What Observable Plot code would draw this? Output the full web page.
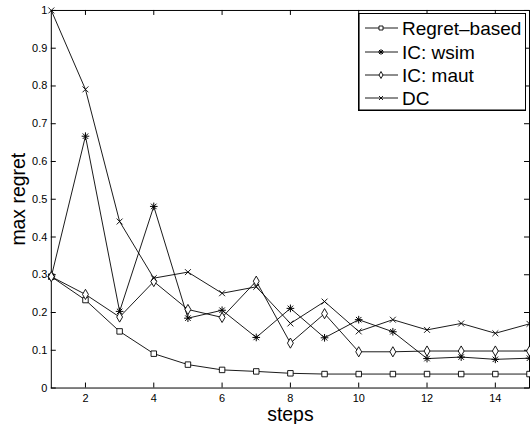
<!DOCTYPE html>
<html>
<head>
<meta charset="utf-8">
<script src="https://cdn.jsdelivr.net/npm/d3@7"></script>
<script src="https://cdn.jsdelivr.net/npm/@observablehq/plot@0.6"></script>
<style>
  html, body { margin: 0; padding: 0; background: white; }
  #wrap { position: relative; width: 530px; height: 426px; overflow: hidden; font-family: "Liberation Sans", Arial, Helvetica, sans-serif; }
  #legend { position: absolute; left: 358px; top: 13px; }
</style>
</head>
<body>
<div id="wrap"></div>
<script>
const steps = [1, 2, 3, 4, 5, 6, 7, 8, 9, 10, 11, 12, 13, 14, 15];
const regretBased = [0.295, 0.233, 0.150, 0.091, 0.062, 0.048, 0.044, 0.039, 0.037, 0.037, 0.037, 0.037, 0.037, 0.037, 0.037];
const icWsim = [0.295, 0.667, 0.203, 0.481, 0.185, 0.206, 0.134, 0.211, 0.133, 0.181, 0.149, 0.078, 0.082, 0.076, 0.079];
const icMaut = [0.295, 0.248, 0.188, 0.282, 0.208, 0.187, 0.283, 0.119, 0.197, 0.096, 0.096, 0.098, 0.098, 0.098, 0.098];
const dc = [1.0, 0.791, 0.441, 0.291, 0.307, 0.251, 0.268, 0.171, 0.229, 0.150, 0.181, 0.154, 0.171, 0.145, 0.170];
const seriesNames = ["Regret\u2013based", "IC: wsim", "IC: maut", "DC"];
const xTicks = [2, 4, 6, 8, 10, 12, 14];
const yTicks = [0, 0.1, 0.2, 0.3, 0.4, 0.5, 0.6, 0.7, 0.8, 0.9, 1];

const seriesValues = [regretBased, icWsim, icMaut, dc];
const rows = seriesNames.flatMap((name, i) => steps.map((s, j) => ({series: name, step: s, value: seriesValues[i][j]})));
const bySeries = name => rows.filter(d => d.series === name);

const W = 532, H = 426, mL = 51, mR = 1, mT = 10, mB = 37;
const frameW = W - mL - mR, frameH = H - mT - mB;
const tickLen = 5;
const font = "Liberation Sans, Arial, Helvetica, sans-serif";

const chart = Plot.plot({
  width: W,
  height: H,
  marginLeft: mL,
  marginRight: mR,
  marginTop: mT,
  marginBottom: mB,
  style: {fontFamily: font, fontSize: "11px", color: "black", background: "white"},
  x: {domain: [1, 15]},
  y: {domain: [0, 1]},
  marks: [
    Plot.frame({stroke: "black", strokeWidth: 1}),
    Plot.tickX(xTicks, {x: d => d, insetTop: frameH - tickLen, stroke: "black"}),
    Plot.tickX(xTicks, {x: d => d, insetBottom: frameH - tickLen, stroke: "black"}),
    Plot.tickY(yTicks, {y: d => d, insetRight: frameW - tickLen, stroke: "black"}),
    Plot.tickY(yTicks, {y: d => d, insetLeft: frameW - tickLen, stroke: "black"}),
    Plot.axisX(xTicks, {tickSize: 0, tickPadding: 6, fontSize: 11, label: null}),
    Plot.axisY(yTicks, {tickSize: 0, tickPadding: 4, fontSize: 11, tickFormat: d => String(d), label: null}),
    ...seriesNames.map(name => Plot.line(bySeries(name), {x: "step", y: "value", stroke: "black", strokeWidth: 0.9})),
    Plot.dot(bySeries(seriesNames[0]), {x: "step", y: "value", symbol: "square", r: 3.1, fill: "white", stroke: "black", strokeWidth: 0.9}),
    Plot.dot(bySeries(seriesNames[1]), {x: "step", y: "value", symbol: "plus", r: 2.6, stroke: "black", strokeWidth: 1}),
    Plot.dot(bySeries(seriesNames[1]), {x: "step", y: "value", symbol: "times", r: 2.6, stroke: "black", strokeWidth: 1}),
    Plot.dot(bySeries(seriesNames[2]), {x: "step", y: "value", symbol: "diamond", r: 3.1, fill: "white", stroke: "black", strokeWidth: 0.9}),
    Plot.dot(bySeries(seriesNames[3]), {x: "step", y: "value", symbol: "times", r: 2.8, stroke: "black", strokeWidth: 0.9}),
    Plot.text(["max regret"], {frameAnchor: "left", dx: -33, rotate: -90, textAnchor: "middle", lineAnchor: "middle", fontSize: 19.5, fill: "black"}),
    Plot.text(["steps"], {frameAnchor: "bottom", dy: 33, textAnchor: "middle", lineAnchor: "bottom", fontSize: 19.5, fill: "black"})
  ]
});

const wrap = document.getElementById("wrap");
wrap.appendChild(chart);

// legend
const lw = 168, lh = 98;
const rowY = [15, 39, 62, 85];
const symbols = [d3.symbolSquare, null, d3.symbolDiamond, d3.symbolTimes];
let svg = `<svg xmlns="http://www.w3.org/2000/svg" width="${lw}" height="${lh}" style="display:block">`;
svg += `<rect x="0.5" y="0.5" width="${lw - 1}" height="${lh - 1}" fill="white" stroke="black" stroke-width="1"/>`;
svg += `<line x1="1" y1="1" x2="1" y2="${lh}" stroke="black" stroke-width="1.2"/>`;
svg += `<line x1="1" y1="${lh - 1}" x2="${lw}" y2="${lh - 1}" stroke="black" stroke-width="1.2"/>`;
seriesNames.forEach((name, i) => {
  const y = rowY[i];
  svg += `<line x1="7" x2="40" y1="${y}" y2="${y}" stroke="black" stroke-width="0.9"/>`;
  const tr = `translate(23,${y})`;
  if (i === 1) {
    svg += `<path transform="${tr}" d="${d3.symbol(d3.symbolPlus, 12)()}" fill="none" stroke="black" stroke-width="1"/>`;
    svg += `<path transform="${tr}" d="${d3.symbol(d3.symbolTimes, 12)()}" fill="none" stroke="black" stroke-width="1"/>`;
  } else if (i === 3) {
    svg += `<path transform="${tr}" d="${d3.symbol(d3.symbolTimes, 12)()}" fill="none" stroke="black" stroke-width="0.9"/>`;
  } else {
    svg += `<path transform="${tr}" d="${d3.symbol(symbols[i], i === 0 ? 16 : 14)()}" fill="white" stroke="black" stroke-width="0.9"/>`;
  }
  svg += `<text x="44" y="${y}" dy="0.35em" font-size="19" font-family="${font}" fill="black">${name}</text>`;
});
svg += `</svg>`;
const legend = document.createElement("div");
legend.id = "legend";
legend.innerHTML = svg;
wrap.appendChild(legend);
</script>
</body>
</html>
